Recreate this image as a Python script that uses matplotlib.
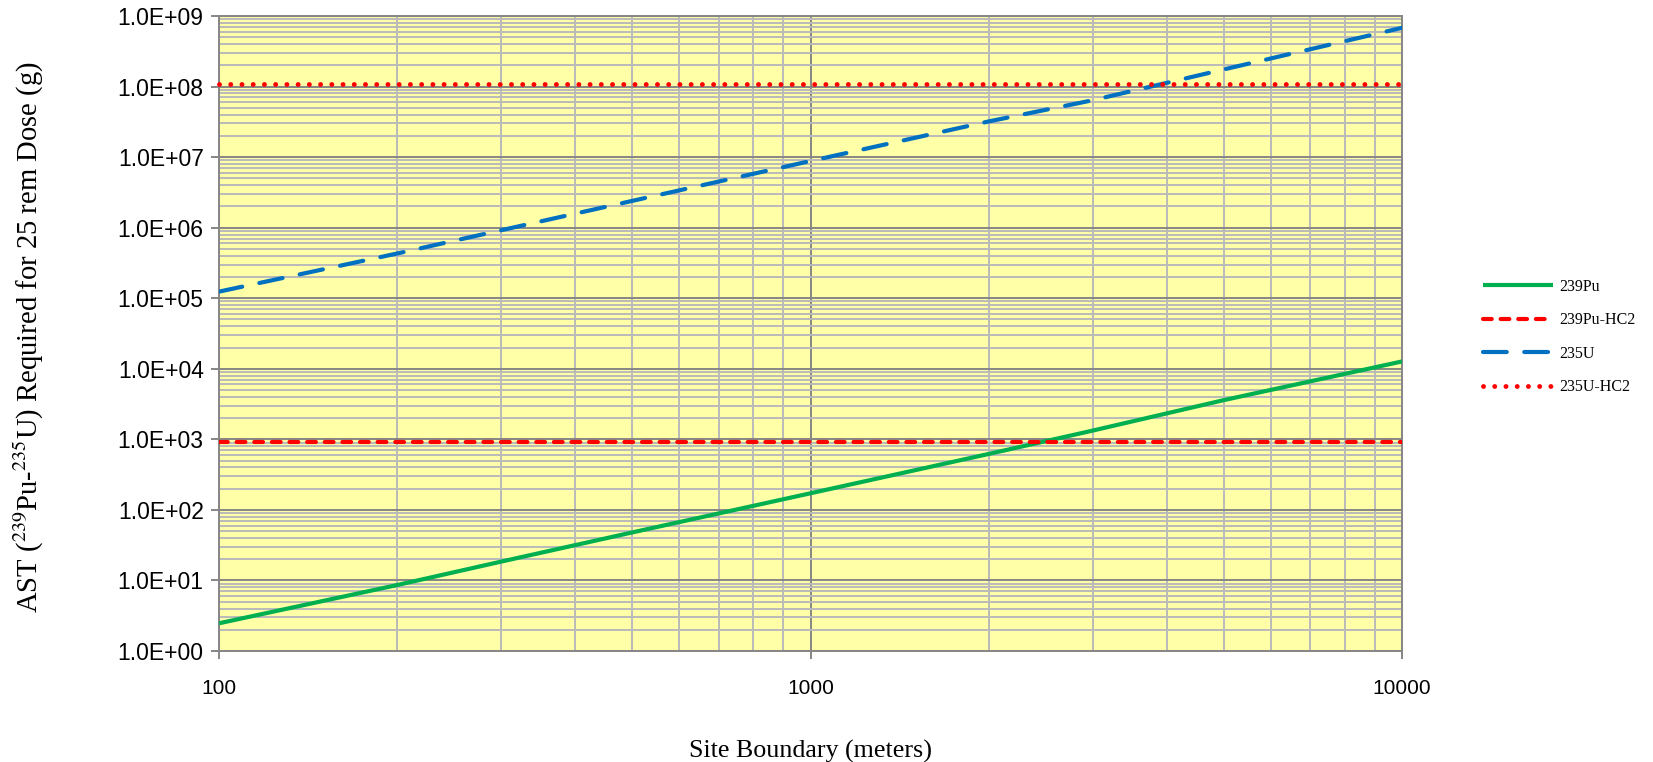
import matplotlib
matplotlib.use("Agg")
import matplotlib.pyplot as plt
from matplotlib.ticker import LogLocator, FixedLocator, FuncFormatter, NullFormatter

# ---- data ----
distance_m = [100, 200, 300, 500, 1000, 2000, 3000, 5000, 10000]
pu239 = [2.47, 8.6, 18.5, 48, 172, 620, 1330, 3600, 12700]
u235 = [1.24e5, 4.3e5, 9.2e5, 2.4e6, 8.8e6, 3.2e7, 6.4e7, 1.75e8, 6.8e8]
pu239_hc2 = [930, 930]
u235_hc2 = [1.1e8, 1.1e8]
hc2_range = [100, 10000]

series_labels = ["239Pu", "239Pu-HC2", "235U", "235U-HC2"]
x_ticks = [100, 1000, 10000]
y_ticks = [1e0, 1e1, 1e2, 1e3, 1e4, 1e5, 1e6, 1e7, 1e8, 1e9]

plt.rcParams['mathtext.fontset'] = 'stix'

W, H = 1653, 762
fig = plt.figure(figsize=(W / 100, H / 100), dpi=100)
fig.patch.set_facecolor('white')

left, right, top, bottom = 219, 1402, 16, 651
ax = fig.add_axes([left / W, 1 - bottom / H, (right - left) / W, (bottom - top) / H])
ax.set_facecolor('#FFFFA8')
ax.set_xscale('log')
ax.set_yscale('log')
ax.set_xlim(100, 10000)
ax.set_ylim(1, 1e9)

major_c = '#868686'
minor_c = '#BABABA'
ax.xaxis.set_major_locator(FixedLocator(x_ticks))
ax.xaxis.set_minor_locator(LogLocator(base=10, subs=range(2, 10)))
ax.yaxis.set_major_locator(FixedLocator(y_ticks))
ax.yaxis.set_minor_locator(LogLocator(base=10, subs=range(2, 10), numticks=20))
ax.xaxis.set_major_formatter(FuncFormatter(lambda v, p: f"{v:.0f}"))
ax.yaxis.set_major_formatter(FuncFormatter(lambda v, p: f"{v:.1E}"))
ax.xaxis.set_minor_formatter(NullFormatter())
ax.yaxis.set_minor_formatter(NullFormatter())

ax.grid(which='minor', color=minor_c, linewidth=1.4, zorder=0)
ax.grid(which='major', color=major_c, linewidth=1.4, zorder=0)
ax.set_axisbelow(True)
for s in ax.spines.values():
    s.set_color(major_c)
    s.set_linewidth(1.4)

ax.tick_params(which='minor', length=0)
ax.tick_params(which='major', direction='out', length=6, width=1.4, color=major_c)
ax.tick_params(axis='y', which='major', labelsize=16.5, pad=5)
ax.tick_params(axis='x', which='major', labelsize=15, pad=14)
for lab in ax.get_xticklabels() + ax.get_yticklabels():
    lab.set_fontfamily('Liberation Sans')

lw = 3.0
l1, = ax.plot(distance_m, pu239, color='#00B050', lw=lw, solid_capstyle='butt',
              label=series_labels[0], zorder=3)
l2, = ax.plot(hc2_range, pu239_hc2, color='#FF0000', lw=lw, dashes=(2.1, 2.13),
              dash_capstyle='round', label=series_labels[1], zorder=3)
l3, = ax.plot(distance_m, u235, color='#0070C0', lw=lw, dashes=(5.7, 4.2),
              dash_capstyle='round', label=series_labels[2], zorder=3)
l4, = ax.plot(hc2_range, u235_hc2, color='#FF0000', lw=3.5, dashes=(0.01, 2.3),
              dash_capstyle='round', label=series_labels[3], zorder=3, clip_on=False)

xl = ax.set_xlabel('Site Boundary (meters)', fontsize=18.7, family='Liberation Serif')
xl.set_va('baseline')
ax.xaxis.set_label_coords(0.5, -(758 - bottom) / (bottom - top))
ax.set_ylabel(r'AST ($^{239}$Pu-$^{235}$U) Required for 25 rem Dose (g)',
              fontsize=20.6, family='Liberation Serif')
ax.yaxis.set_label_coords(-(219 - 46) / (right - left), 0.495)

leg = fig.legend(handles=[l1, l2, l3, l4], loc='center left',
                 bbox_to_anchor=(1483 / W, 1 - 337 / H), frameon=False,
                 prop={'family': 'Liberation Serif', 'size': 11.5},
                 handlelength=4.4, handletextpad=0.4, labelspacing=1.1,
                 borderpad=0, borderaxespad=0)

fig.savefig('out.png', dpi=100, facecolor='white')
